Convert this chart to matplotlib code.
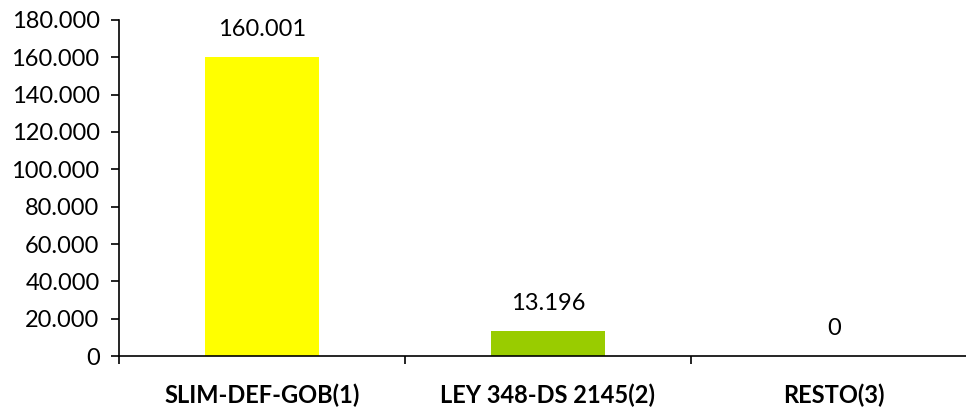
import matplotlib.pyplot as plt
from matplotlib.ticker import FuncFormatter, FixedLocator

categories = ["SLIM-DEF-GOB(1)", "LEY 348-DS 2145(2)", "RESTO(3)"]
values = [160001, 13196, 0]
colors = ["#FFFF00", "#99CC00", "#99CC00"]

plt.rcParams['font.family'] = ['Lato', 'DejaVu Sans']

fig = plt.figure(figsize=(9.66, 4.11), dpi=100)
ax = fig.add_axes([119 / 966, 55 / 411, 858 / 966, 336 / 411])

x = range(len(categories))
ax.bar(x, values, width=0.4, color=colors)

def thousands(v, pos=None):
    return f"{int(round(v)):,}".replace(",", ".")

# value labels above the bars
for xi, v in zip(x, values):
    ax.annotate(thousands(v), (xi, v), xytext=(0, 20), textcoords="offset points",
                ha="center", va="center", fontsize=17)

ax.set_xlim(-0.5, 2.5)
ax.set_ylim(0, 180000)
ax.set_yticks(range(0, 180001, 20000))
ax.yaxis.set_major_formatter(FuncFormatter(thousands))
ax.tick_params(axis="y", direction="out", length=6, width=1.2, labelsize=17, pad=8)

ax.set_xticks(list(x))
ax.set_xticklabels(categories, fontsize=17, fontweight="bold")
ax.xaxis.set_minor_locator(FixedLocator([-0.5, 0.5, 1.5, 2.5]))
ax.tick_params(axis="x", which="major", length=0, pad=20)
ax.tick_params(axis="x", which="minor", direction="out", length=6, width=1.2)

for s in ["top", "right"]:
    ax.spines[s].set_visible(False)
for s in ["left", "bottom"]:
    ax.spines[s].set_linewidth(1.2)

fig.savefig("out.png", dpi=100)
